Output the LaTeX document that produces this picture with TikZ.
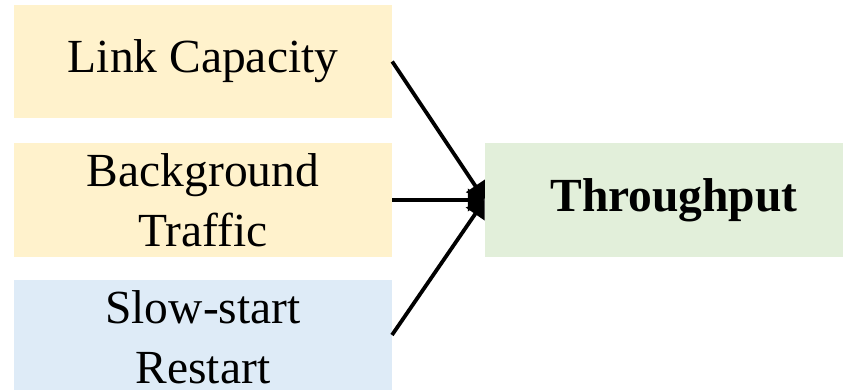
\documentclass[tikz,border=0pt]{standalone}
\usepackage{fontspec}
\setmainfont{Liberation Serif}
\usetikzlibrary{arrows.meta}
\definecolor{factorYellow}{HTML}{FFF2CC}
\definecolor{factorBlue}{HTML}{DEEBF7}
\definecolor{outcomeGreen}{HTML}{E2EFDA}
\begin{document}
\begin{tikzpicture}[x=1pt,y=-1pt,
  factor/.style={draw=none,minimum width=378pt,minimum height=113pt,inner sep=0pt,
    align=center,font=\fontsize{47.5}{60}\selectfont},
  outcome/.style={draw=none,fill=outcomeGreen,minimum width=358pt,minimum height=114pt,
    inner sep=0pt,font=\fontsize{47.5}{60}\selectfont\bfseries},
  link/.style={line width=3.8pt,-{Triangle[length=17pt,width=22pt]}}]
  \useasboundingbox (0,0) rectangle (843,389);
  \begin{scope}
    \clip (0,0) rectangle (843,389);
    \node[factor,fill=factorYellow] (cap) at (203,61.5) {Link Capacity};
    \node[factor,fill=factorYellow,minimum height=114pt] (bg) at (203,200) {Background\\Traffic};
    \node[factor,fill=factorBlue,minimum height=114pt] (ssr) at (203,337) {Slow-start\\Restart};
    \node[outcome] (thr) at (664,200) {\hspace*{20pt}Throughput};
  \end{scope}
  \draw[link] (cap.east) -- (thr.west);
  \draw[link] (bg.east) -- (thr.west);
  \draw[link] (392,335) -- (thr.west);
\end{tikzpicture}
\end{document}
